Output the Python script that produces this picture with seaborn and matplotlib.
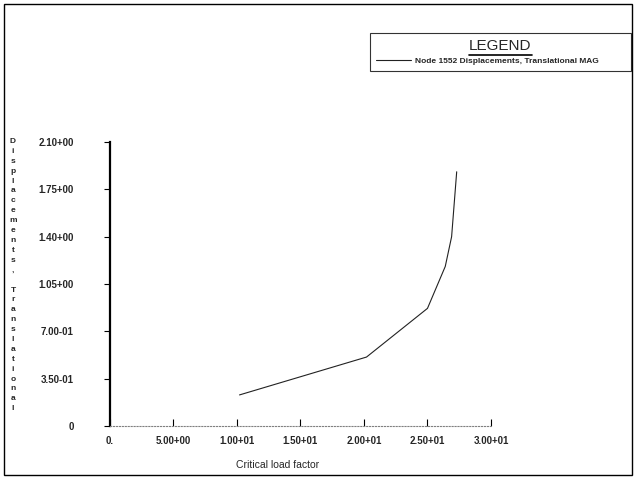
import matplotlib
matplotlib.use("Agg")
import matplotlib.pyplot as plt
import seaborn as sns
import pandas as pd
from matplotlib.lines import Line2D
from matplotlib.patches import Rectangle

# values
load_factor = [10.2, 20.2, 25.0, 26.4, 26.9, 27.2, 27.3]
displacement = [0.23, 0.51, 0.87, 1.18, 1.40, 1.76, 1.88]

x_ticks = [0, 5, 10, 15, 20, 25, 30]
x_labels = ["0.", "5.00+00", "1.00+01", "1.50+01", "2.00+01", "2.50+01", "3.00+01"]
y_ticks = [0, 0.35, 0.70, 1.05, 1.40, 1.75, 2.10]
y_labels = ["0", "3.50-01", "7.00-01", "1.05+00", "1.40+00", "1.75+00", "2.10+00"]

series_name = "Node 1552 Displacements, Translational MAG"
y_title = "Displacements, Translational"

df = pd.DataFrame({"factor": load_factor, "disp": displacement})

sns.set_style("white")
plt.rcParams["font.family"] = ["Liberation Sans", "DejaVu Sans"]

fig = plt.figure(figsize=(6.35, 4.79), dpi=100)
ax = fig.add_axes([0.1732, 0.1106, 0.6, 0.5929])

sns.lineplot(data=df, x="factor", y="disp", ax=ax, color="#222222",
             linewidth=0.8, label=series_name, sort=False)

ax.set_xlim(0, 30)
ax.set_ylim(0, 2.10)
ax.set_xticks(x_ticks)
ax.set_xticklabels(x_labels, fontsize=7, fontweight="bold")
ax.set_yticks(y_ticks)
ax.set_yticklabels(y_labels, fontsize=7, fontweight="bold")
ax.tick_params(axis="x", bottom=True, direction="in", length=5, width=0.8, pad=7, color="black")
ax.tick_params(axis="y", left=True, direction="out", length=4, width=0.8, pad=22, color="black")

for s in ["top", "right"]:
    ax.spines[s].set_visible(False)
ax.spines["left"].set_color("black")
ax.spines["left"].set_linewidth(1.6)
ax.spines["bottom"].set_color("gray")
ax.spines["bottom"].set_linestyle(":")
ax.spines["bottom"].set_linewidth(0.8)

ax.set_xlabel("Critical load factor", fontsize=7.5)
ax.xaxis.set_label_coords((278 - 110) / 381, -0.12)
ax.set_ylabel("")

# stacked vertical y title
fig.text(13 / 635, 1 - 138 / 479, "\n".join(y_title), fontsize=6,
         fontweight="bold", ha="center", va="top", linespacing=1.58)

# legend box
leg = ax.legend(title="LEGEND", loc="upper left",
                bbox_to_anchor=(370 / 635, 1 - 71 / 479, 261 / 635, 38 / 479),
                bbox_transform=fig.transFigure, mode="expand",
                fontsize=6, title_fontsize=11,
                frameon=True, fancybox=False, borderpad=0.7, handlelength=4.2,
                handletextpad=0.5, borderaxespad=0)
leg.get_frame().set_edgecolor("black")
leg.get_frame().set_linewidth(0.8)
for t in leg.get_texts():
    t.set_fontweight("bold")

# underline the legend title
fig.canvas.draw()
tb = leg.get_title().get_window_extent().transformed(fig.transFigure.inverted())
fig.add_artist(Line2D([tb.x0, tb.x1], [tb.y0 - 0.004, tb.y0 - 0.004],
                      color="black", linewidth=1.2, transform=fig.transFigure))

# outer frame of the page
fig.add_artist(Rectangle((4 / 635, 4 / 479), 628 / 635, 471 / 479, fill=False,
                         edgecolor="black", linewidth=1, transform=fig.transFigure))

fig.savefig("out.png", dpi=100)
